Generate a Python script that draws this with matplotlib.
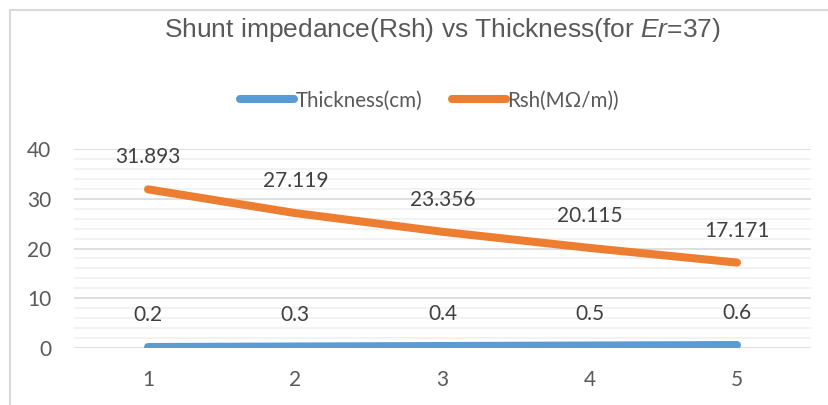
import matplotlib
matplotlib.use("Agg")
import matplotlib.pyplot as plt
import matplotlib.patches as mpatches
from matplotlib.ticker import MultipleLocator

# data
categories = [1, 2, 3, 4, 5]
thickness_cm = [0.2, 0.3, 0.4, 0.5, 0.6]
rsh = [31.893, 27.119, 23.356, 20.115, 17.171]

BLUE = "#5B9BD5"
ORANGE = "#ED7D31"
TEXT = "#595959"
LABEL_FONT = "Lato"

plt.rcParams["mathtext.fontset"] = "custom"
plt.rcParams["mathtext.rm"] = "Liberation Sans"
plt.rcParams["mathtext.it"] = "Liberation Sans:italic"

fig = plt.figure(figsize=(8.29, 4.05), dpi=100)
ax = fig.add_axes([0.0898, 0.1407, 0.888, 0.4914])

# chart frame (cropped excel chart area)
fig.patches.append(mpatches.Rectangle((10 / 829, -0.1), 1.2, 1 - 10 / 405 + 0.1,
                                      transform=fig.transFigure, fill=False,
                                      edgecolor="#D9D9D9", linewidth=1.5))

ax.plot(categories, thickness_cm, color=BLUE, linewidth=5.8,
        solid_capstyle="round", label="Thickness(cm)", zorder=3)
ax.plot(categories, rsh, color=ORANGE, linewidth=5.8,
        solid_capstyle="round", label="Rsh(MΩ/m))", zorder=3)

for xs, ys in [(categories, thickness_cm), (categories, rsh)]:
    for x, y in zip(xs, ys):
        ax.annotate(f"{y:g}", (x, y), xytext=(0, 23), textcoords="offset points",
                    ha="center", va="center", fontsize=15, color="#404040",
                    family=LABEL_FONT)

ax.set_xlim(0.5, 5.5)
ax.set_ylim(0, 40)
ax.set_xticks(categories)
ax.yaxis.set_major_locator(MultipleLocator(10))
ax.yaxis.set_minor_locator(MultipleLocator(2))
ax.grid(axis="y", which="major", color="#D9D9D9", linewidth=1.2)
ax.grid(axis="y", which="minor", color="#F0F0F0", linewidth=1.2)
ax.set_axisbelow(True)
ax.tick_params(which="both", length=0)
ax.tick_params(axis="y", pad=16.5)
ax.tick_params(axis="x", pad=16)
for lab in ax.get_xticklabels() + ax.get_yticklabels():
    lab.set_fontsize(15)
    lab.set_color(TEXT)
    lab.set_family(LABEL_FONT)
for s in ax.spines.values():
    s.set_visible(False)

fig.text(0.534, 0.925, "Shunt impedance(Rsh) vs Thickness(for $\\mathit{Er}$=37)",
         ha="center", va="center", fontsize=19, color=TEXT,
         family="Liberation Sans")

leg = fig.legend(loc="center", bbox_to_anchor=(0.518, 0.752), ncol=2, frameon=False,
                 handlelength=2.65, handletextpad=0.05, columnspacing=1.45,
                 prop={"family": LABEL_FONT, "size": 14.8})
for t in leg.get_texts():
    t.set_color(TEXT)

fig.savefig("out.png", dpi=100)
